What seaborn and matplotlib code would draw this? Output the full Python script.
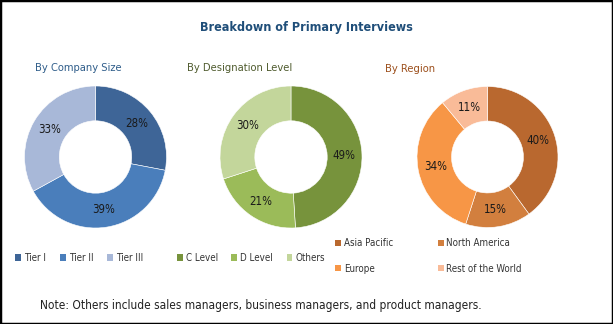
import matplotlib
matplotlib.use("Agg")
import matplotlib.pyplot as plt
import seaborn as sns
from matplotlib.patches import Patch, Rectangle

sns.set_theme(style="white")
plt.rcParams['font.family'] = ['DejaVu Sans']

title = "Breakdown of Primary Interviews"
note = "Note: Others include sales managers, business managers, and product managers."

size_labels = ["Tier I", "Tier II", "Tier III"]
size_values = [28, 39, 33]
desig_labels = ["C Level", "D Level", "Others"]
desig_values = [49, 21, 30]
region_labels = ["Asia Pacific", "North America", "Europe", "Rest of the World"]
region_values = [40, 15, 34, 11]

size_colors = sns.color_palette(["#3E6597", "#4A7EBB", "#A8B8D8"])
desig_colors = sns.color_palette(["#77933C", "#9BBB59", "#C3D69B"])
region_colors = sns.color_palette(["#B9682F", "#D27F3E", "#F79646", "#F9BB98"])

W, H = 613, 324
fig = plt.figure(figsize=(W / 100, H / 100), dpi=100)
fig.patch.set_facecolor("white")

cond = dict(family=['DejaVu Sans'], fontstretch='condensed')

def px_axes(cx, cy, r):
    return fig.add_axes([(cx - r) / W, (H - cy - r) / H, 2 * r / W, 2 * r / H])

def donut(cx, cy, r, values, colors):
    ax = px_axes(cx, cy, r)
    ax.pie(values, colors=colors, startangle=90, counterclock=False, radius=1,
           autopct=lambda p: f"{p:.0f}%", pctdistance=0.75,
           wedgeprops=dict(width=0.49, edgecolor="white", linewidth=0.4),
           textprops=dict(fontsize=8.3, color="#1a1a1a", fontstretch='condensed'))
    ax.set_xlim(-1, 1)
    ax.set_ylim(-1, 1)
    ax.set_aspect("equal")
    ax.axis("off")
    return ax

donut(95.5, 157, 71, size_values, size_colors)
donut(291, 157, 71, desig_values, desig_colors)
donut(487.5, 157, 70.5, region_values, region_colors)

fig.text(306 / W, 1 - 27 / H, title, ha="center", va="center", fontsize=9,
         fontweight="bold", color="#1F4E79", **cond)
fig.text(78 / W, 1 - 68 / H, "By Company Size", ha="center", va="center",
         fontsize=8, color="#2F5D8A", **cond)
fig.text(240 / W, 1 - 68 / H, "By Designation Level", ha="center", va="center",
         fontsize=8, color="#4F5B2E", **cond)
fig.text(410 / W, 1 - 69 / H, "By Region", ha="center", va="center",
         fontsize=8, color="#9C4F1C", **cond)

def legend(labels, colors, x, y, ncol, colsp, labsp=0.5):
    handles = [Patch(facecolor=c, edgecolor="none") for c in colors]
    fig.legend(handles, labels, loc="center left",
               bbox_to_anchor=(x / W, 1 - y / H), ncol=ncol, frameon=False,
               handlelength=0.6, handleheight=0.6, handletextpad=0.3,
               columnspacing=colsp, labelspacing=labsp,
               prop=dict(size=7, stretch='condensed'),
               borderpad=0, borderaxespad=0, labelcolor="#333333")

legend(size_labels, size_colors, 15, 258, 3, 1.45)
legend(desig_labels, desig_colors, 177, 258, 3, 1.4)
order = [0, 2, 1, 3]
legend([region_labels[i] for i in order], [region_colors[i] for i in order],
       335, 256, 2, 4.6, labsp=1.6)

fig.text(261 / W, 1 - 305 / H, note, ha="center", va="center", fontsize=8.6,
         color="#222222", **cond)

fig.add_artist(Rectangle((0, 0), 1, 1, transform=fig.transFigure, fill=False,
                         edgecolor="black", linewidth=2.5))

fig.savefig("out.png", dpi=100)
